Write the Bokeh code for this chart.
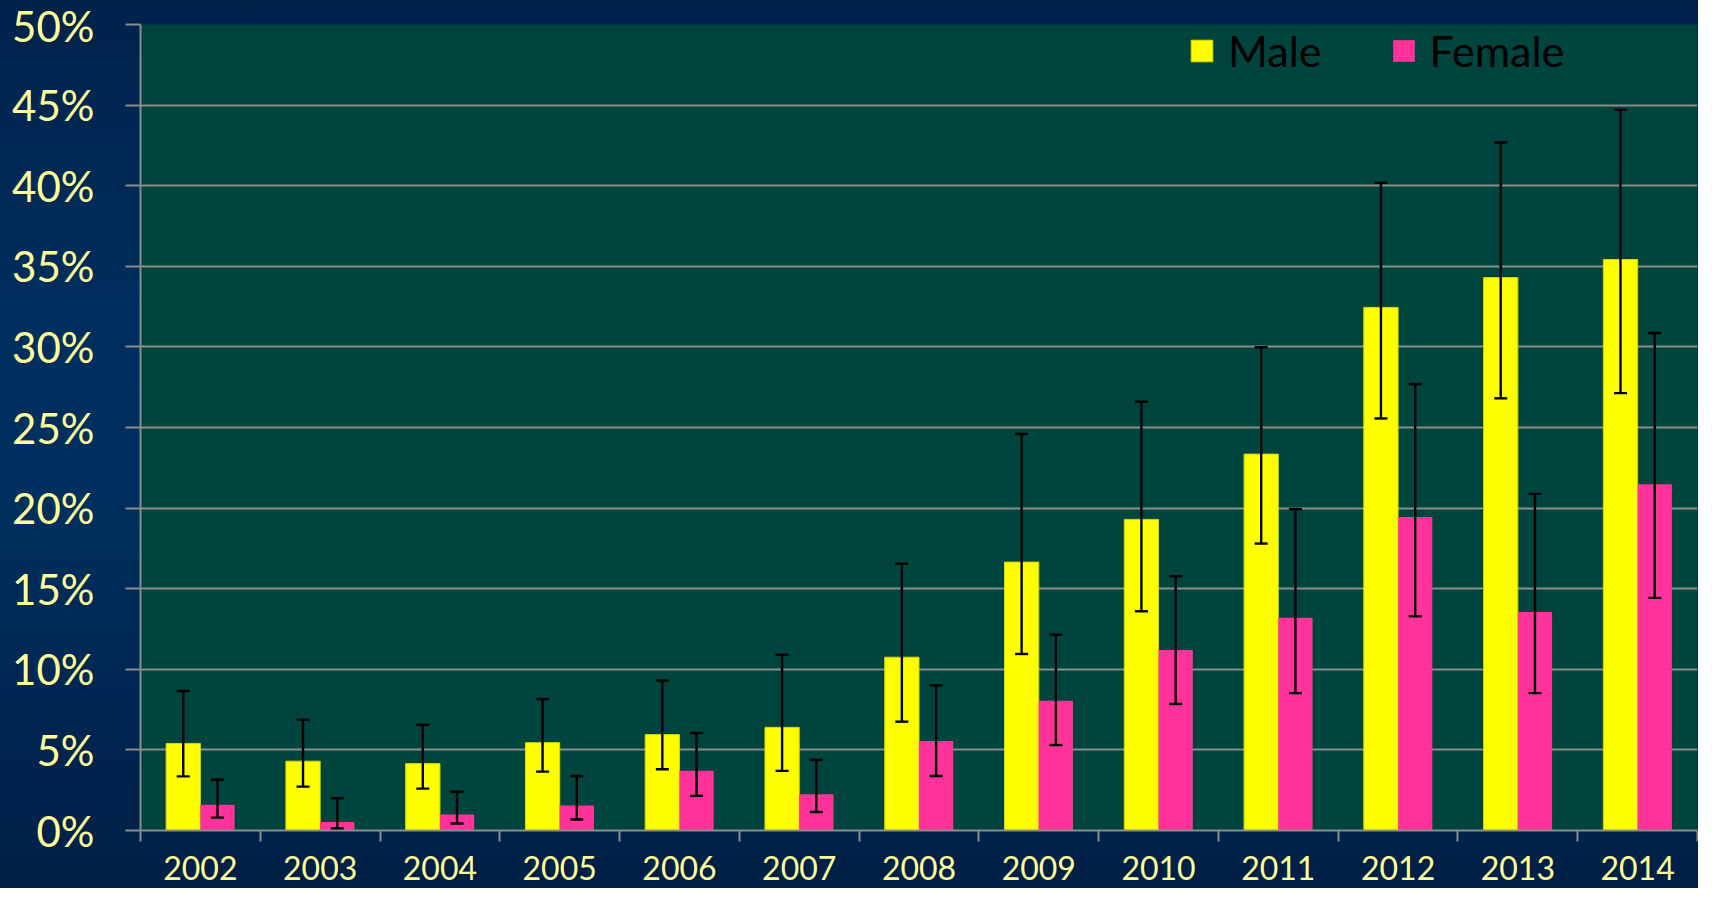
from bokeh.plotting import figure
from bokeh.models import (ColumnDataSource, Whisker, TeeHead, FixedTicker, Legend, LegendItem,
                          NumeralTickFormatter, Range1d)
from bokeh.embed import file_html
from bokeh.resources import INLINE

years = ["2002", "2003", "2004", "2005", "2006", "2007", "2008", "2009", "2010", "2011", "2012", "2013", "2014"]
male = [5.4, 4.3, 4.15, 5.45, 5.95, 6.4, 10.75, 16.65, 19.3, 23.35, 32.45, 34.3, 35.42]
male_hi = [8.65, 6.87, 6.56, 8.15, 9.3, 10.9, 16.55, 24.6, 26.6, 29.98, 40.18, 42.68, 44.72]
male_lo = [3.36, 2.72, 2.6, 3.65, 3.8, 3.7, 6.75, 10.95, 13.6, 17.8, 25.56, 26.81, 27.13]
female = [1.6, 0.53, 1.0, 1.55, 3.7, 2.25, 5.55, 8.05, 11.2, 13.2, 19.45, 13.55, 21.48]
female_hi = [3.15, 2.0, 2.4, 3.38, 6.05, 4.38, 9.0, 12.15, 15.78, 19.94, 27.69, 20.88, 30.86]
female_lo = [0.8, 0.14, 0.43, 0.68, 2.15, 1.15, 3.38, 5.3, 7.85, 8.52, 13.29, 8.52, 14.43]

BW = 0.286
n = len(years)
centers = [i + 0.5 for i in range(n)]

src_m = ColumnDataSource(dict(x=[c - BW / 2 for c in centers], top=[v / 100 for v in male],
                              hi=[v / 100 for v in male_hi], lo=[v / 100 for v in male_lo]))
src_f = ColumnDataSource(dict(x=[c + BW / 2 for c in centers], top=[v / 100 for v in female],
                              hi=[v / 100 for v in female_hi], lo=[v / 100 for v in female_lo]))

p = figure(width=1698, height=888, output_backend="svg", toolbar_location=None,
           x_range=Range1d(0, n), y_range=Range1d(0, 0.5),
           min_border_left=140, min_border_top=24, min_border_right=1, min_border_bottom=58)
p.styles = {"background": "linear-gradient(180deg, #00224b 0%, #002e5e 35%, #00305f 55%, #00244f 85%, #001f46 100%)"}
p.border_fill_alpha = 0
p.background_fill_color = "#00443e"
p.outline_line_color = None

rm = p.vbar(x="x", top="top", width=BW, source=src_m, fill_color="#ffff00", line_color="#d8d800", line_width=1)
rf = p.vbar(x="x", top="top", width=BW, source=src_f, fill_color="#ff3399", line_color=None)

for src in (src_m, src_f):
    w = Whisker(base="x", upper="hi", lower="lo", source=src, line_color="black", line_width=2.4,
                level="overlay",
                upper_head=TeeHead(size=13, line_color="black", line_width=2.4),
                lower_head=TeeHead(size=13, line_color="black", line_width=2.4))
    p.add_layout(w)

# axes
p.yaxis.ticker = FixedTicker(ticks=[i * 0.05 for i in range(11)])
p.yaxis.formatter = NumeralTickFormatter(format="0%")
p.yaxis.major_label_text_font = "Lato"
p.yaxis.major_label_text_font_size = "42px"
p.yaxis.major_label_text_color = "#ffff99"
p.yaxis.major_tick_out = 15
p.yaxis.major_tick_in = 0
p.yaxis.minor_tick_line_color = None
p.yaxis.major_tick_line_color = "#8c8c8c"
p.yaxis.major_tick_line_width = 2
p.yaxis.axis_line_color = "#8c8c8c"
p.yaxis.axis_line_width = 2
p.yaxis.major_label_standoff = 31

p.xaxis.ticker = FixedTicker(ticks=centers, minor_ticks=list(range(n + 1)))
p.xaxis.major_label_overrides = {c: y for c, y in zip(centers, years)}
p.xaxis.major_label_text_font = "Lato"
p.xaxis.major_label_text_font_size = "32px"
p.xaxis.major_label_text_color = "#ffff99"
p.xaxis.major_tick_out = 0
p.xaxis.major_tick_in = 0
p.xaxis.minor_tick_out = 11
p.xaxis.minor_tick_in = 0
p.xaxis.minor_tick_line_color = "#8c8c8c"
p.xaxis.minor_tick_line_width = 2
p.xaxis.axis_line_color = "#8c8c8c"
p.xaxis.axis_line_width = 2
p.xaxis.major_label_standoff = 14

p.xgrid.grid_line_color = None
p.ygrid.grid_line_color = "#8c8c8c"
p.ygrid.grid_line_width = 2

legend = Legend(items=[LegendItem(label="Male", renderers=[rm]), LegendItem(label="Female", renderers=[rf])],
                orientation="horizontal", location=(1044, 750))
legend.label_text_font = "Lato"
legend.label_text_font_size = "43px"
legend.label_text_color = "black"
legend.glyph_width = 27
legend.glyph_height = 27
legend.label_standoff = 13
legend.spacing = 68
legend.padding = 4
legend.background_fill_alpha = 0
legend.border_line_alpha = 0
p.add_layout(legend)

open("out.html", "w").write(file_html(p, INLINE))
